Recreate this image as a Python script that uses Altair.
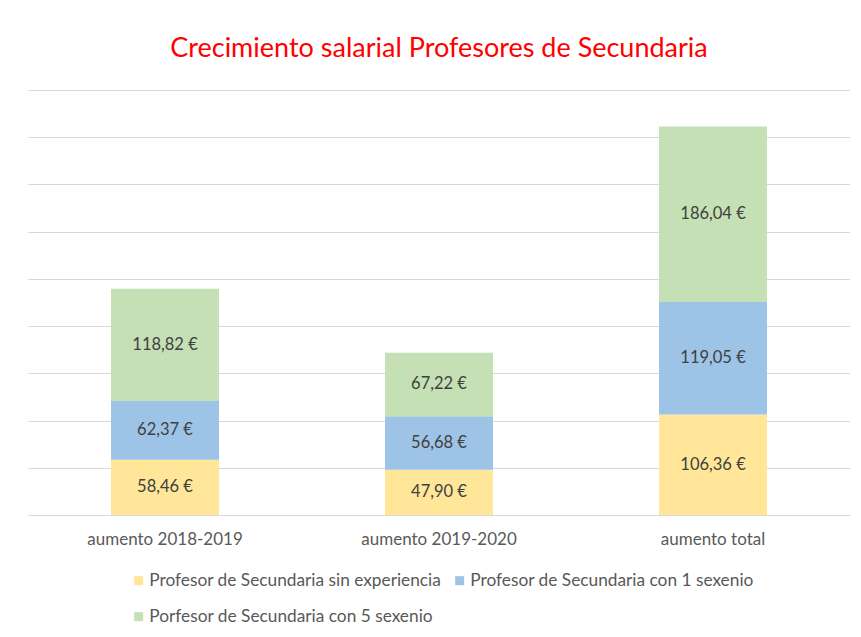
import altair as alt
import pandas as pd

categories = ["aumento 2018-2019", "aumento 2019-2020", "aumento total"]
series = [
    "Profesor de Secundaria sin experiencia",
    "Profesor de Secundaria con 1 sexenio",
    "Porfesor de Secundaria con 5 sexenio",
]
sin_experiencia = [58.46, 47.90, 106.36]
con_1_sexenio = [62.37, 56.68, 119.05]
con_5_sexenio = [118.82, 67.22, 186.04]
colors = ["#FFE699", "#9DC3E6", "#C5E0B4"]

rows = []
for si, (name, vals) in enumerate(zip(series, [sin_experiencia, con_1_sexenio, con_5_sexenio])):
    for ci, cat in enumerate(categories):
        rows.append({
            "cat": cat,
            "serie": name,
            "idx": si,
            "value": vals[ci],
            "label": f"{vals[ci]:.2f}".replace(".", ",") + " €",
        })
df = pd.DataFrame(rows)

FONT = "Lato"

x = alt.X(
    "cat:N",
    sort=categories,
    title=None,
    scale=alt.Scale(paddingInner=0.606, paddingOuter=0.303),
    axis=alt.Axis(
        labelAngle=0,
        labelFontSize=17,
        labelColor="#595959",
        labelFont=FONT,
        labelPadding=16,
        ticks=False,
        domainColor="#D9D9D9",
        domainWidth=1,
        grid=False,
    ),
)

base = alt.Chart(df)

bars = base.mark_bar().encode(
    x=x,
    y=alt.Y(
        "value:Q",
        stack="zero",
        title=None,
        scale=alt.Scale(domain=[0, 450], nice=False),
        axis=alt.Axis(
            values=list(range(0, 451, 50)),
            labels=False,
            ticks=False,
            domain=False,
            grid=True,
            gridColor="#D9D9D9",
            gridWidth=1,
        ),
    ),
    color=alt.Color(
        "serie:N",
        sort=series,
        scale=alt.Scale(domain=series, range=colors),
        legend=alt.Legend(
            title=None,
            orient="none",
            legendX=102,
            legendY=482,
            direction="horizontal",
            columns=2,
            symbolType="square",
            symbolSize=81,
            symbolStrokeWidth=0,
            labelFontSize=17.3,
            labelFont=FONT,
            labelColor="#595959",
            labelLimit=0,
            labelOffset=2,
            rowPadding=18,
            columnPadding=9,
            symbolOffset=0,
            padding=0,
        ),
    ),
    order=alt.Order("idx:Q", sort="ascending"),
)

texts = base.transform_stack(
    stack="value",
    as_=["v0", "v1"],
    groupby=["cat"],
    sort=[alt.SortField("idx", order="ascending")],
).transform_calculate(
    mid="(datum.v0 + datum.v1) / 2"
).mark_text(
    fontSize=16.5, font=FONT, color="#404040", baseline="middle", align="center"
).encode(
    x=alt.X("cat:N", sort=categories),
    y=alt.Y("mid:Q"),
    text="label:N",
)

chart = alt.layer(bars, texts).properties(
    width=822,
    height=425,
    background="white",
    title=alt.TitleParams(
        "Crecimiento salarial Profesores de Secundaria",
        color="#FF0000",
        fontSize=27,
        font=FONT,
        fontWeight="normal",
        anchor="middle",
        offset=27,
    ),
    autosize=alt.AutoSizeParams(type="none"),
    padding={"left": 20, "top": 82, "right": 0, "bottom": 114},
).configure_view(stroke="transparent", strokeWidth=0)

chart.save("out.html", embed_options={"renderer": "svg", "actions": False})
